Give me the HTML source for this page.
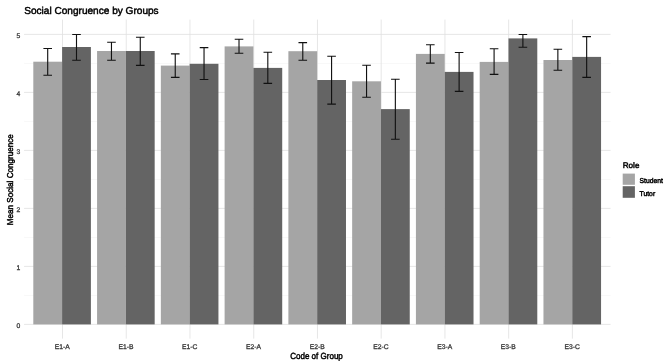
<!DOCTYPE html>
<html><head><meta charset="utf-8"><title>Social Congruence by Groups</title>
<style>html,body{margin:0;padding:0;background:#fff}svg{display:block}text{text-rendering:geometricPrecision}</style></head>
<body>
<svg width="669" height="364" viewBox="0 0 669 364" font-family="Liberation Sans, Arial, sans-serif">
<rect width="669" height="364" fill="#fff"/>
<line x1="24.1" x2="610.5" y1="295.40" y2="295.40" stroke="#eeeeee" stroke-width="0.5"/>
<line x1="24.1" x2="610.5" y1="237.40" y2="237.40" stroke="#eeeeee" stroke-width="0.5"/>
<line x1="24.1" x2="610.5" y1="179.40" y2="179.40" stroke="#eeeeee" stroke-width="0.5"/>
<line x1="24.1" x2="610.5" y1="121.40" y2="121.40" stroke="#eeeeee" stroke-width="0.5"/>
<line x1="24.1" x2="610.5" y1="63.40" y2="63.40" stroke="#eeeeee" stroke-width="0.5"/>
<line x1="24.1" x2="610.5" y1="324.40" y2="324.40" stroke="#e0e0e0" stroke-width="0.8"/>
<line x1="24.1" x2="610.5" y1="266.40" y2="266.40" stroke="#e0e0e0" stroke-width="0.8"/>
<line x1="24.1" x2="610.5" y1="208.40" y2="208.40" stroke="#e0e0e0" stroke-width="0.8"/>
<line x1="24.1" x2="610.5" y1="150.40" y2="150.40" stroke="#e0e0e0" stroke-width="0.8"/>
<line x1="24.1" x2="610.5" y1="92.40" y2="92.40" stroke="#e0e0e0" stroke-width="0.8"/>
<line x1="24.1" x2="610.5" y1="34.40" y2="34.40" stroke="#e0e0e0" stroke-width="0.8"/>
<line x1="62.50" x2="62.50" y1="19.6" y2="338.6" stroke="#e0e0e0" stroke-width="0.8"/>
<line x1="126.24" x2="126.24" y1="19.6" y2="338.6" stroke="#e0e0e0" stroke-width="0.8"/>
<line x1="189.98" x2="189.98" y1="19.6" y2="338.6" stroke="#e0e0e0" stroke-width="0.8"/>
<line x1="253.72" x2="253.72" y1="19.6" y2="338.6" stroke="#e0e0e0" stroke-width="0.8"/>
<line x1="317.46" x2="317.46" y1="19.6" y2="338.6" stroke="#e0e0e0" stroke-width="0.8"/>
<line x1="381.20" x2="381.20" y1="19.6" y2="338.6" stroke="#e0e0e0" stroke-width="0.8"/>
<line x1="444.94" x2="444.94" y1="19.6" y2="338.6" stroke="#e0e0e0" stroke-width="0.8"/>
<line x1="508.68" x2="508.68" y1="19.6" y2="338.6" stroke="#e0e0e0" stroke-width="0.8"/>
<line x1="572.42" x2="572.42" y1="19.6" y2="338.6" stroke="#e0e0e0" stroke-width="0.8"/>
<rect x="33.30" y="61.7" width="28.80" height="262.70" fill="#a5a5a5"/>
<rect x="62.10" y="47.0" width="28.80" height="277.40" fill="#646464"/>
<rect x="97.07" y="51.0" width="28.80" height="273.40" fill="#a5a5a5"/>
<rect x="125.87" y="51.0" width="28.80" height="273.40" fill="#646464"/>
<rect x="160.84" y="65.6" width="28.80" height="258.80" fill="#a5a5a5"/>
<rect x="189.64" y="63.8" width="28.80" height="260.60" fill="#646464"/>
<rect x="224.61" y="46.4" width="28.80" height="278.00" fill="#a5a5a5"/>
<rect x="253.41" y="67.9" width="28.80" height="256.50" fill="#646464"/>
<rect x="288.38" y="51.2" width="28.80" height="273.20" fill="#a5a5a5"/>
<rect x="317.18" y="80.0" width="28.80" height="244.40" fill="#646464"/>
<rect x="352.15" y="81.3" width="28.80" height="243.10" fill="#a5a5a5"/>
<rect x="380.95" y="109.1" width="28.80" height="215.30" fill="#646464"/>
<rect x="415.92" y="53.9" width="28.80" height="270.50" fill="#a5a5a5"/>
<rect x="444.72" y="71.9" width="28.80" height="252.50" fill="#646464"/>
<rect x="479.69" y="61.9" width="28.80" height="262.50" fill="#a5a5a5"/>
<rect x="508.49" y="38.4" width="28.80" height="286.00" fill="#646464"/>
<rect x="543.46" y="60.0" width="28.80" height="264.40" fill="#a5a5a5"/>
<rect x="572.26" y="56.9" width="28.80" height="267.50" fill="#646464"/>
<path d="M43.40 48.5H52.00M47.70 48.5V75.3M43.40 75.3H52.00" stroke="#111" stroke-width="1.12" fill="none"/>
<path d="M72.20 34.5H80.80M76.50 34.5V60.2M72.20 60.2H80.80" stroke="#111" stroke-width="1.12" fill="none"/>
<path d="M107.17 42.2H115.77M111.47 42.2V60.2M107.17 60.2H115.77" stroke="#111" stroke-width="1.12" fill="none"/>
<path d="M135.97 37.2H144.57M140.27 37.2V65.4M135.97 65.4H144.57" stroke="#111" stroke-width="1.12" fill="none"/>
<path d="M170.94 53.9H179.54M175.24 53.9V77.4M170.94 77.4H179.54" stroke="#111" stroke-width="1.12" fill="none"/>
<path d="M199.74 47.6H208.34M204.04 47.6V79.5M199.74 79.5H208.34" stroke="#111" stroke-width="1.12" fill="none"/>
<path d="M234.71 39.3H243.31M239.01 39.3V53.3M234.71 53.3H243.31" stroke="#111" stroke-width="1.12" fill="none"/>
<path d="M263.51 52.2H272.11M267.81 52.2V83.4M263.51 83.4H272.11" stroke="#111" stroke-width="1.12" fill="none"/>
<path d="M298.48 42.6H307.08M302.78 42.6V60.2M298.48 60.2H307.08" stroke="#111" stroke-width="1.12" fill="none"/>
<path d="M327.28 56.2H335.88M331.58 56.2V104.1M327.28 104.1H335.88" stroke="#111" stroke-width="1.12" fill="none"/>
<path d="M362.25 65.2H370.85M366.55 65.2V97.2M362.25 97.2H370.85" stroke="#111" stroke-width="1.12" fill="none"/>
<path d="M391.05 79.2H399.65M395.35 79.2V139.3M391.05 139.3H399.65" stroke="#111" stroke-width="1.12" fill="none"/>
<path d="M426.02 44.7H434.62M430.32 44.7V63.1M426.02 63.1H434.62" stroke="#111" stroke-width="1.12" fill="none"/>
<path d="M454.82 52.5H463.42M459.12 52.5V91.4M454.82 91.4H463.42" stroke="#111" stroke-width="1.12" fill="none"/>
<path d="M489.79 48.7H498.39M494.09 48.7V74.4M489.79 74.4H498.39" stroke="#111" stroke-width="1.12" fill="none"/>
<path d="M518.59 34.5H527.19M522.89 34.5V47.2M518.59 47.2H527.19" stroke="#111" stroke-width="1.12" fill="none"/>
<path d="M553.56 49.3H562.16M557.86 49.3V70.2M553.56 70.2H562.16" stroke="#111" stroke-width="1.12" fill="none"/>
<path d="M582.36 36.6H590.96M586.66 36.6V77.4M582.36 77.4H590.96" stroke="#111" stroke-width="1.12" fill="none"/>
<text x="24.2" y="13.9" font-size="10.08" fill="#000" stroke="#000" stroke-width="0.45">Social Congruence by Groups</text>
<text x="20.2" y="327.70" font-size="6.75" text-anchor="end" fill="#3c3c3c" stroke="#3c3c3c" stroke-width="0.3">0</text>
<text x="20.2" y="269.70" font-size="6.75" text-anchor="end" fill="#3c3c3c" stroke="#3c3c3c" stroke-width="0.3">1</text>
<text x="20.2" y="211.70" font-size="6.75" text-anchor="end" fill="#3c3c3c" stroke="#3c3c3c" stroke-width="0.3">2</text>
<text x="20.2" y="153.70" font-size="6.75" text-anchor="end" fill="#3c3c3c" stroke="#3c3c3c" stroke-width="0.3">3</text>
<text x="20.2" y="95.70" font-size="6.75" text-anchor="end" fill="#3c3c3c" stroke="#3c3c3c" stroke-width="0.3">4</text>
<text x="20.2" y="37.70" font-size="6.75" text-anchor="end" fill="#3c3c3c" stroke="#3c3c3c" stroke-width="0.3">5</text>
<text x="62.20" y="349.2" font-size="6.75" text-anchor="middle" fill="#3c3c3c" stroke="#3c3c3c" stroke-width="0.3">E1-A</text>
<text x="125.94" y="349.2" font-size="6.75" text-anchor="middle" fill="#3c3c3c" stroke="#3c3c3c" stroke-width="0.3">E1-B</text>
<text x="189.68" y="349.2" font-size="6.75" text-anchor="middle" fill="#3c3c3c" stroke="#3c3c3c" stroke-width="0.3">E1-C</text>
<text x="253.42" y="349.2" font-size="6.75" text-anchor="middle" fill="#3c3c3c" stroke="#3c3c3c" stroke-width="0.3">E2-A</text>
<text x="317.16" y="349.2" font-size="6.75" text-anchor="middle" fill="#3c3c3c" stroke="#3c3c3c" stroke-width="0.3">E2-B</text>
<text x="380.90" y="349.2" font-size="6.75" text-anchor="middle" fill="#3c3c3c" stroke="#3c3c3c" stroke-width="0.3">E2-C</text>
<text x="444.64" y="349.2" font-size="6.75" text-anchor="middle" fill="#3c3c3c" stroke="#3c3c3c" stroke-width="0.3">E3-A</text>
<text x="508.38" y="349.2" font-size="6.75" text-anchor="middle" fill="#3c3c3c" stroke="#3c3c3c" stroke-width="0.3">E3-B</text>
<text x="572.12" y="349.2" font-size="6.75" text-anchor="middle" fill="#3c3c3c" stroke="#3c3c3c" stroke-width="0.3">E3-C</text>
<text transform="translate(316.5 358.6) scale(0.905 1)" font-size="8.9" text-anchor="middle" fill="#000" stroke="#000" stroke-width="0.45">Code of Group</text>
<text transform="translate(12.9 179.7) rotate(-90) scale(0.95 1)" font-size="8.55" text-anchor="middle" fill="#000" stroke="#000" stroke-width="0.45">Mean Social Congruence</text>
<text x="622.7" y="168.4" font-size="8.15" fill="#000" stroke="#000" stroke-width="0.45">Role</text>
<rect x="622.7" y="173.6" width="12.2" height="11.2" fill="#a5a5a5"/>
<rect x="622.7" y="186.2" width="12.2" height="11.6" fill="#646464"/>
<text transform="translate(639.6 183.1) scale(0.96 1)" font-size="7.05" fill="#000" stroke="#000" stroke-width="0.45">Student</text>
<text transform="translate(639.6 195.6) scale(0.96 1)" font-size="7.05" fill="#000" stroke="#000" stroke-width="0.45">Tutor</text>
</svg>
</body></html>
